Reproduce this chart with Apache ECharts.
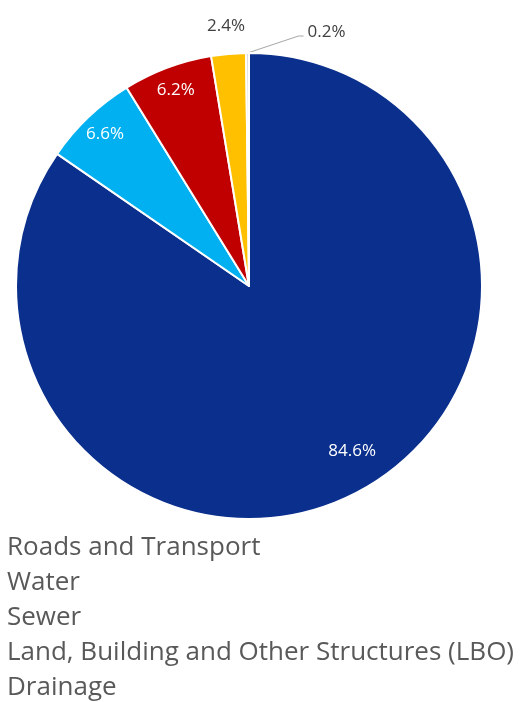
<!DOCTYPE html>
<html><head><meta charset="utf-8">
<script src="https://cdn.jsdelivr.net/npm/echarts@6/dist/echarts.min.js"></script>
<style>html,body{margin:0;padding:0;background:#fff}#c{width:523px;height:702px}</style>
</head><body><div id="c"></div>
<script>
const categories = ['Roads and Transport', 'Water', 'Sewer', 'Land, Building and Other Structures (LBO)', 'Drainage'];
const values = [84.6, 6.6, 6.2, 2.4, 0.2];
const colors = ['#0A2F8C', '#00B0F0', '#C00000', '#FFC000', '#D9D9D9'];

const CENTER = [249, 286];
const R = 233;
const FONT = '"Open Sans", "Liberation Sans", sans-serif';
const LABEL_SIZE = 17;

function helperData(showIdx) {
  return categories.map((name, i) => ({
    name: name,
    value: values[i],
    label: { show: showIdx.indexOf(i) >= 0 }
  }));
}
function helper(radius, showIdx, color, nudge) {
  return {
    type: 'pie', center: CENTER, radius: radius, startAngle: 90, clockwise: true,
    silent: true, avoidLabelOverlap: false, z: 5,
    itemStyle: { color: 'rgba(0,0,0,0)', borderWidth: 0 },
    label: { position: 'inside', formatter: '{c}%', color: color, fontSize: LABEL_SIZE, fontFamily: FONT },
    labelLine: { show: false },
    emphasis: { disabled: true },
    labelLayout: nudge ? function () { return nudge; } : undefined,
    data: helperData(showIdx)
  };
}

const chart = echarts.init(document.getElementById('c'), null, { renderer: 'canvas' });
chart.setOption({
  animation: false,
  backgroundColor: '#ffffff',
  color: colors,
  legend: {
    orient: 'vertical', left: 1, top: 530, padding: 0, height: 200,
    icon: 'rect', itemWidth: 0, itemHeight: 14, itemGap: 0,
    selectedMode: false,
    textStyle: { color: '#595959', fontSize: 26, fontFamily: FONT, lineHeight: 35 },
    data: categories
  },
  series: [
    {
      type: 'pie', center: CENTER, radius: [0, R], startAngle: 90, clockwise: true,
      avoidLabelOverlap: false,
      itemStyle: { borderColor: '#ffffff', borderWidth: 2 },
      label: { show: false },
      labelLine: { show: false },
      emphasis: { disabled: true },
      data: categories.map((name, i) => ({
        name: name, value: values[i],
        label: i === 4 ? { show: true, position: 'outside', formatter: '{c}%', color: '#404040', fontSize: LABEL_SIZE, fontFamily: FONT } : { show: false },
        labelLine: i === 4 ? { show: true, length: 10, length2: 10, lineStyle: { color: '#A6A6A6', width: 1 } } : { show: false }
      })),
      labelLayout: function (p) {
        if (p.dataIndex !== 4 || !p.labelLinePoints) return {};
        const a = p.labelLinePoints[0];
        return {
          x: a[0] + 60, y: a[1] - 21, align: 'left', verticalAlign: 'middle',
          labelLinePoints: [[a[0], a[1]], [a[0] + 51, a[1] - 17], [a[0] + 56, a[1] - 17]]
        };
      }
    },
    helper([186, 226], [1, 2], '#ffffff'),
    helper([173, 213], [0], '#ffffff', { dx: 12, dy: -8 }),
    helper([250, 266], [3], '#404040')
  ]
});
</script></body></html>
